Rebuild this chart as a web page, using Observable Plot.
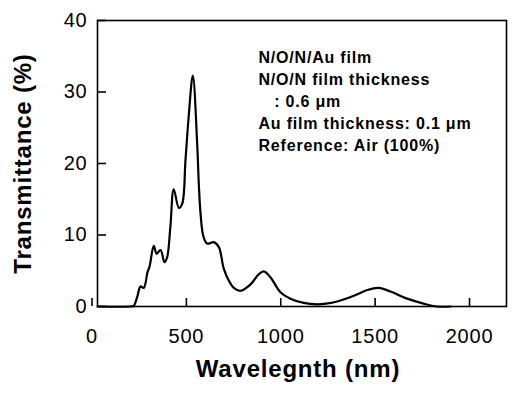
<!DOCTYPE html>
<html>
<head>
<meta charset="utf-8">
<script src="https://cdn.jsdelivr.net/npm/d3@7"></script>
<script src="https://cdn.jsdelivr.net/npm/@observablehq/plot@0.6"></script>
<style>
  html, body { margin: 0; padding: 0; background: #fff; }
</style>
</head>
<body>
<div id="chart"></div>
<script>
// Data
const wavelength = [29, 200, 221, 239, 257, 274, 294, 305, 327, 342, 363, 384, 398, 415, 433, 460, 478, 495, 512, 534, 557, 566, 575, 590, 610, 645, 672, 698, 725, 751, 787, 840, 883, 910, 945, 998, 1051, 1122, 1193, 1240, 1299, 1387, 1458, 1519, 1581, 1670, 1757, 1828, 1900];
const transmittance = [0, 0, 0.1, 1.3, 2.8, 2.6, 4.8, 5.6, 8.5, 7.4, 7.9, 6.2, 6.9, 11.1, 16.4, 13.8, 14.4, 20.4, 26.5, 32.3, 22.8, 17.0, 13.0, 9.8, 8.8, 9.0, 8.3, 5.3, 3.6, 2.6, 2.2, 3.1, 4.5, 4.9, 4.1, 2.0, 1.1, 0.5, 0.3, 0.4, 0.7, 1.5, 2.3, 2.6, 2.1, 1.1, 0.4, 0, 0];
const xTicks = [0, 500, 1000, 1500, 2000];
const yTicks = [0, 10, 20, 30, 40];
const xLabel = "Wavelegnth (nm)";
const yLabel = "Transmittance (%)";
const legendLines = [
  "N/O/N/Au film",
  "N/O/N film thickness",
  "\u00a0\u00a0\u00a0: 0.6 \u03bcm",
  "Au film thickness: 0.1 \u03bcm",
  "Reference: Air (100%)"
];

const data = wavelength.map((w, i) => ({w, t: transmittance[i]}));

const W = 512, H = 398;
const mL = 97, mT = 20, mR = 6, mB = 92;
const frameW = W - mL - mR, frameH = H - mT - mB;

const chart = Plot.plot({
  width: W,
  height: H,
  marginLeft: mL,
  marginTop: mT,
  marginRight: mR,
  marginBottom: mB,
  style: {
    fontFamily: "'Liberation Sans', Arial, Helvetica, sans-serif",
    background: "white",
    color: "black",
    letterSpacing: "0.8px"
  },
  x: {domain: [29, 2196]},
  y: {domain: [0, 40]},
  marks: [
    Plot.frame({stroke: "black", strokeWidth: 1.6}),
    Plot.tickX(xTicks, {x: d => d, insetTop: frameH - 8, stroke: "black", strokeWidth: 1.6}),
    Plot.tickY(yTicks, {y: d => d, insetRight: frameW - 9, stroke: "black", strokeWidth: 1.6}),
    Plot.axisX(xTicks, {tickSize: 0, tickPadding: 22, fontSize: 20, label: null, tickFormat: d => String(d)}),
    Plot.axisY(yTicks, {tickSize: 0, tickPadding: 10, fontSize: 20, label: null, tickFormat: d => String(d)}),
    Plot.line(data, {x: "w", y: "t", stroke: "black", strokeWidth: 2.2, curve: "catmull-rom"}),
    Plot.text([xLabel], {text: d => d, frameAnchor: "bottom", textAnchor: "middle", dx: -4, dy: 63, lineAnchor: "middle", fontSize: 24, fontWeight: "bold"}),
    Plot.text([yLabel], {text: d => d, frameAnchor: "left", textAnchor: "middle", dx: -74, rotate: -90, lineAnchor: "middle", fontSize: 24, fontWeight: "bold"}),
    Plot.text([legendLines.join("\n")], {text: d => d, frameAnchor: "top-left", dx: 161, dy: 27, lineAnchor: "top", textAnchor: "start", fontSize: 16, fontWeight: "bold", lineHeight: 1.375})
  ]
});
document.getElementById("chart").appendChild(chart);
</script>
</body>
</html>
